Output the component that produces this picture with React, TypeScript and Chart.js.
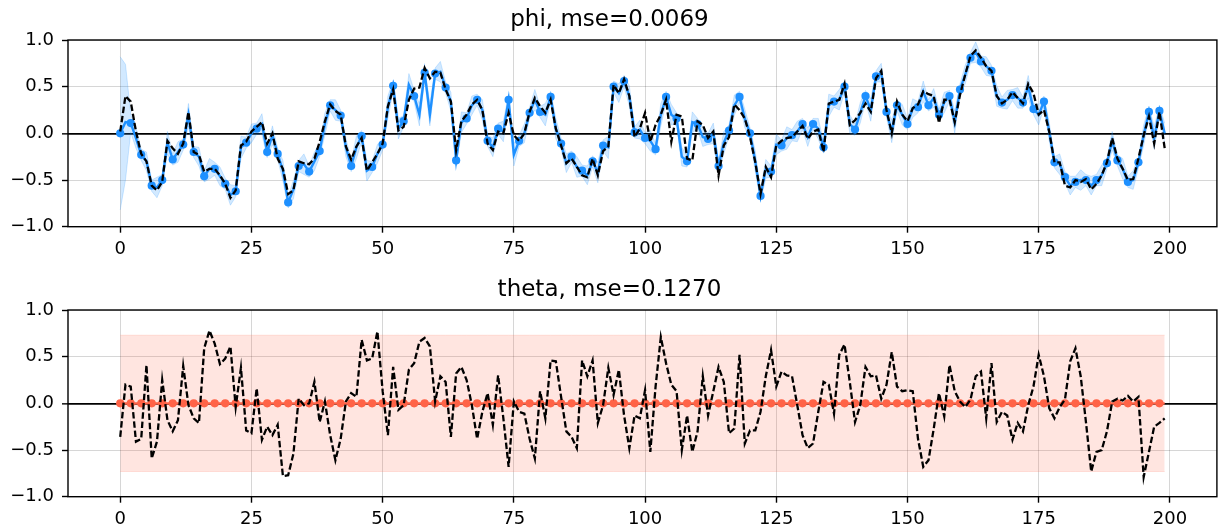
import React, { useEffect, useRef } from "react";
import { Chart, registerables } from "chart.js";

Chart.register(...registerables);

// ---------------- data ----------------
const X_TICKS = [0, 25, 50, 75, 100, 125, 150, 175, 200];
const Y_TICKS = [-1, -0.5, 0, 0.5, 1];

const PHI_TITLE = "phi, mse=0.0069";
const THETA_TITLE = "theta, mse=0.1270";

const phiTrue = [
  0.02, 0.40, 0.34, 0.02, -0.22, -0.30, -0.56, -0.61, -0.52, -0.08,
  -0.16, -0.22, -0.11, 0.23, -0.20, -0.23, -0.41, -0.38, -0.38, -0.45,
  -0.54, -0.69, -0.61, -0.13, -0.09, 0.02, 0.07, 0.12, -0.11, 0.00,
  -0.27, -0.38, -0.65, -0.61, -0.30, -0.32, -0.33, -0.27, -0.09, 0.13,
  0.31, 0.24, 0.20, -0.14, -0.28, -0.14, -0.05, -0.40, -0.31, -0.22,
  -0.11, 0.29, 0.47, 0.03, 0.07, 0.36, 0.48, 0.49, 0.70, 0.59,
  0.66, 0.65, 0.47, 0.34, -0.18, 0.13, 0.20, 0.31, 0.36, 0.25,
  -0.11, -0.18, 0.02, 0.00, 0.22, -0.02, -0.08, 0.00, 0.23, 0.38,
  0.29, 0.22, 0.36, 0.05, -0.13, -0.32, -0.27, -0.36, -0.45, -0.47,
  -0.27, -0.45, -0.19, -0.14, 0.52, 0.43, 0.58, 0.40, -0.04, 0.05,
  0.22, -0.09, 0.09, 0.20, 0.36, -0.09, 0.20, 0.18, -0.27, -0.29,
  0.13, 0.09, -0.05, 0.02, -0.45, -0.13, -0.04, 0.31, 0.25, 0.16,
  -0.04, -0.31, -0.65, -0.36, -0.47, -0.13, -0.08, -0.05, -0.04, 0.02,
  0.08, -0.06, 0.02, 0.04, -0.20, 0.32, 0.34, 0.36, 0.53, 0.09,
  0.14, 0.22, 0.32, 0.23, 0.59, 0.67, 0.25, 0.00, 0.34, 0.20,
  0.13, 0.27, 0.31, 0.45, 0.42, 0.40, 0.11, 0.36, 0.36, 0.12,
  0.41, 0.63, 0.83, 0.89, 0.81, 0.72, 0.67, 0.40, 0.32, 0.36,
  0.44, 0.38, 0.32, 0.53, 0.43, 0.20, 0.25, 0.02, -0.31, -0.31,
  -0.56, -0.58, -0.50, -0.52, -0.49, -0.60, -0.54, -0.45, -0.31, -0.05,
  -0.27, -0.38, -0.50, -0.49, -0.27, -0.02, 0.18, -0.11, 0.23, -0.16,
];

const phiEst = [
  0.00, 0.12, 0.11, -0.05, -0.23, -0.30, -0.56, -0.58, -0.50, -0.10,
  -0.28, -0.20, -0.12, 0.20, -0.20, -0.25, -0.46, -0.38, -0.38, -0.46,
  -0.54, -0.66, -0.62, -0.15, -0.10, 0.00, 0.05, 0.10, -0.20, -0.02,
  -0.22, -0.40, -0.74, -0.60, -0.35, -0.33, -0.41, -0.30, -0.19, 0.10,
  0.30, 0.25, 0.19, -0.15, -0.35, -0.15, -0.03, -0.40, -0.36, -0.22,
  -0.12, 0.28, 0.51, 0.05, 0.13, 0.52, 0.40, 0.20, 0.65, 0.20,
  0.64, 0.66, 0.49, 0.34, -0.29, 0.12, 0.16, 0.30, 0.36, 0.25,
  -0.08, -0.15, 0.05, 0.02, 0.36, -0.23, -0.08, 0.00, 0.22, 0.36,
  0.23, 0.20, 0.39, 0.05, -0.11, -0.32, -0.25, -0.36, -0.40, -0.45,
  -0.30, -0.42, -0.13, -0.15, 0.50, 0.43, 0.56, 0.40, 0.01, 0.04,
  -0.05, -0.08, -0.17, 0.20, 0.39, 0.20, 0.16, -0.25, -0.30, 0.12,
  0.10, -0.04, -0.06, 0.00, -0.35, -0.10, 0.03, 0.30, 0.39, 0.16,
  0.00, -0.30, -0.67, -0.38, -0.41, -0.12, -0.13, -0.05, -0.02, 0.02,
  0.10, -0.04, 0.10, 0.05, -0.15, 0.30, 0.34, 0.36, 0.50, 0.10,
  0.04, 0.22, 0.40, 0.25, 0.61, 0.65, 0.23, 0.02, 0.30, 0.20,
  0.10, 0.27, 0.28, 0.45, 0.30, 0.38, 0.20, 0.33, 0.40, 0.12,
  0.47, 0.63, 0.81, 0.87, 0.77, 0.72, 0.67, 0.40, 0.33, 0.36,
  0.41, 0.38, 0.33, 0.50, 0.26, 0.20, 0.34, 0.02, -0.31, -0.33,
  -0.47, -0.56, -0.52, -0.50, -0.50, -0.56, -0.50, -0.45, -0.32, -0.08,
  -0.29, -0.38, -0.52, -0.50, -0.31, -0.02, 0.23, -0.05, 0.24, 0.00,
];

const phiSd = [
  0.82, 0.62, 0.10, 0.11, 0.06, 0.10, 0.06, 0.11, 0.06, 0.12,
  0.06, 0.11, 0.06, 0.12, 0.06, 0.10, 0.06, 0.11, 0.07, 0.10,
  0.06, 0.11, 0.06, 0.12, 0.06, 0.10, 0.06, 0.11, 0.06, 0.10,
  0.06, 0.11, 0.06, 0.10, 0.06, 0.11, 0.06, 0.10, 0.06, 0.12,
  0.06, 0.11, 0.06, 0.10, 0.06, 0.12, 0.06, 0.11, 0.06, 0.10,
  0.06, 0.12, 0.06, 0.11, 0.06, 0.12, 0.06, 0.12, 0.06, 0.12,
  0.06, 0.11, 0.06, 0.10, 0.06, 0.11, 0.06, 0.10, 0.06, 0.11,
  0.06, 0.10, 0.06, 0.11, 0.06, 0.12, 0.06, 0.10, 0.06, 0.11,
  0.06, 0.12, 0.06, 0.11, 0.06, 0.10, 0.06, 0.11, 0.06, 0.10,
  0.06, 0.11, 0.06, 0.12, 0.06, 0.10, 0.06, 0.11, 0.06, 0.10,
  0.06, 0.11, 0.06, 0.12, 0.06, 0.11, 0.06, 0.10, 0.06, 0.11,
  0.06, 0.10, 0.06, 0.11, 0.06, 0.12, 0.06, 0.11, 0.06, 0.10,
  0.06, 0.11, 0.06, 0.10, 0.06, 0.11, 0.06, 0.12, 0.06, 0.11,
  0.06, 0.10, 0.06, 0.11, 0.06, 0.12, 0.06, 0.11, 0.06, 0.10,
  0.06, 0.11, 0.06, 0.12, 0.06, 0.10, 0.06, 0.12, 0.06, 0.11,
  0.06, 0.10, 0.06, 0.11, 0.06, 0.10, 0.06, 0.11, 0.06, 0.12,
  0.06, 0.10, 0.06, 0.11, 0.06, 0.10, 0.06, 0.11, 0.06, 0.10,
  0.06, 0.11, 0.06, 0.12, 0.06, 0.11, 0.06, 0.10, 0.06, 0.11,
  0.06, 0.10, 0.06, 0.11, 0.06, 0.10, 0.06, 0.11, 0.06, 0.10,
  0.06, 0.11, 0.06, 0.10, 0.06, 0.11, 0.06, 0.12, 0.06, 0.11,
];

const thetaTrue = [
  -0.36, 0.20, 0.18, -0.41, -0.38, 0.41, -0.59, -0.41, 0.25, -0.18,
  -0.30, -0.18, 0.40, -0.02, -0.16, -0.21, 0.59, 0.78, 0.64, 0.42,
  0.48, 0.61, -0.04, 0.38, -0.29, -0.32, 0.16, -0.39, -0.25, -0.34,
  -0.23, -0.78, -0.77, -0.54, 0.05, -0.02, 0.00, 0.23, -0.20, 0.02,
  -0.34, -0.61, -0.38, 0.02, 0.11, 0.07, 0.68, 0.46, 0.48, 0.77,
  0.13, -0.34, 0.39, -0.07, -0.02, 0.36, 0.43, 0.66, 0.70, 0.61,
  0.02, 0.29, 0.23, -0.36, 0.32, 0.39, 0.25, -0.02, -0.38, -0.09,
  0.11, -0.23, 0.30, -0.16, -0.68, 0.02, -0.09, -0.11, -0.38, -0.59,
  0.13, -0.16, 0.46, 0.45, 0.07, -0.30, -0.36, -0.48, 0.46, 0.29,
  0.46, -0.21, -0.02, 0.38, 0.09, 0.36, -0.13, -0.48, -0.13, -0.16,
  0.14, -0.52, 0.18, 0.71, 0.43, 0.20, 0.13, -0.50, -0.13, -0.52,
  -0.30, 0.29, -0.13, 0.13, 0.39, 0.23, -0.32, -0.27, 0.52, -0.43,
  -0.29, -0.29, -0.09, 0.29, 0.57, 0.18, 0.34, 0.30, 0.29, -0.02,
  -0.34, -0.48, -0.43, -0.09, 0.23, 0.20, -0.11, 0.52, 0.63, 0.23,
  -0.20, -0.02, 0.39, 0.29, 0.30, 0.05, 0.20, 0.55, 0.18, 0.13,
  0.14, 0.13, -0.38, -0.68, -0.61, -0.27, 0.11, -0.14, 0.41, 0.13,
  0.02, -0.04, 0.04, 0.29, 0.34, -0.16, 0.43, -0.20, -0.09, -0.13,
  -0.39, -0.21, -0.30, -0.02, 0.18, 0.52, 0.29, -0.05, -0.16, -0.04,
  0.04, 0.45, 0.59, 0.29, -0.20, -0.73, -0.52, -0.50, -0.30, 0.02,
  0.05, 0.03, 0.08, 0.02, 0.07, -0.79, -0.52, -0.25, -0.21, -0.16,
];

// theta estimate is flat at zero with a constant +/- band
const THETA_MEAN = 0.0;
const THETA_BAND = 0.73;

// ---------------- styling ----------------
const FONT = "'DejaVu Sans', 'Liberation Sans', sans-serif";
const BLUE = "#1e90ff";
const BLUE_BAND = "rgba(30,144,255,0.2)";
const RED = "#ff6347";
const RED_BAND = "rgba(255,99,71,0.17)";
const GRID = "rgba(0,0,0,0.16)";
const W = 1221;
const H = 266;

const fmtY = (v: number) => {
  const s = Number(v).toFixed(1);
  return s.startsWith("-") ? "\u2212" + s.slice(1) : s;
};

const pts = (arr: number[]) => arr.map((y, i) => ({ x: i, y }));

const markEven = (ctx: any) => (ctx.dataIndex % 2 === 0 ? 4.1 : 0);

const boxPlugin = {
  id: "boxFrame",
  afterDatasetsDraw(chart: any) {
    const { ctx, chartArea } = chart;
    const { left, top, right, bottom } = chartArea;
    ctx.save();
    ctx.strokeStyle = "#000";
    ctx.lineWidth = 1.4;
    ctx.strokeRect(left, top, right - left, bottom - top);
    ctx.restore();
  },
};

function makeOptions(title: string, padTop: number, padBottom: number, xHeight: number) {
  return {
    responsive: false,
    animation: false as const,
    devicePixelRatio: 1,
    layout: { padding: { left: 0, right: 2, top: 0, bottom: 0 } },
    elements: { line: { tension: 0 } },
    plugins: {
      legend: { display: false },
      tooltip: { enabled: false },
      title: {
        display: true,
        text: title,
        color: "#000",
        font: { family: FONT, size: 23, weight: "normal" as const, lineHeight: 1.2 },
        padding: { top: padTop, bottom: padBottom },
      },
    },
    scales: {
      x: {
        type: "linear" as const,
        min: -9.95,
        max: 208.95,
        afterBuildTicks: (s: any) => {
          s.ticks = X_TICKS.map((v) => ({ value: v }));
        },
        afterFit: (s: any) => {
          s.height = xHeight;
        },
        ticks: {
          color: "#000",
          font: { family: FONT, size: 18 },
          padding: 6,
          maxRotation: 0,
          autoSkip: false,
          callback: (v: any) => String(v),
        },
        grid: {
          color: GRID,
          lineWidth: 1,
          tickColor: "#000",
          tickWidth: 1.4,
          tickLength: 6,
        },
        border: { display: false },
      },
      y: {
        type: "linear" as const,
        min: -1,
        max: 1,
        afterBuildTicks: (s: any) => {
          s.ticks = Y_TICKS.map((v) => ({ value: v }));
        },
        afterFit: (s: any) => {
          s.width = 68;
        },
        ticks: {
          color: "#000",
          font: { family: FONT, size: 18 },
          padding: 8,
          callback: (v: any) => fmtY(v),
        },
        grid: {
          color: (ctx: any) => (ctx.tick && ctx.tick.value === 0 ? "#000" : GRID),
          lineWidth: (ctx: any) => (ctx.tick && ctx.tick.value === 0 ? 1.7 : 1),
          tickColor: "#000",
          tickWidth: 1.4,
          tickLength: 6,
        },
        border: { display: false },
      },
    },
  };
}

function PhiChart() {
  const ref = useRef<HTMLCanvasElement | null>(null);
  useEffect(() => {
    if (!ref.current) return;
    const upper = phiEst.map((v, i) => v + phiSd[i]);
    const lower = phiEst.map((v, i) => v - phiSd[i]);
    const chart = new Chart(ref.current, {
      type: "line",
      data: {
        datasets: [
          {
            label: "phi true",
            data: pts(phiTrue),
            borderColor: "#000",
            borderWidth: 2.3,
            borderDash: [6.5, 2.8],
            pointRadius: 0,
            fill: false,
            order: 0,
          },
          {
            label: "phi estimate",
            data: pts(phiEst),
            borderColor: BLUE,
            borderWidth: 2.4,
            pointRadius: markEven,
            pointBackgroundColor: BLUE,
            pointBorderWidth: 0,
            fill: false,
            order: 1,
          },
          {
            label: "upper",
            data: pts(upper),
            borderColor: BLUE_BAND,
            borderWidth: 1,
            pointRadius: 0,
            backgroundColor: BLUE_BAND,
            fill: "+1",
            order: 2,
          },
          {
            label: "lower",
            data: pts(lower),
            borderColor: BLUE_BAND,
            borderWidth: 1,
            pointRadius: 0,
            fill: false,
            order: 3,
          },
        ],
      },
      options: makeOptions(PHI_TITLE, 6.4, 6.0, 39.3) as any,
      plugins: [boxPlugin],
    });
    return () => chart.destroy();
  }, []);
  return <canvas ref={ref} width={W} height={H} style={{ display: "block", width: W, height: H }} />;
}

function ThetaChart() {
  const ref = useRef<HTMLCanvasElement | null>(null);
  useEffect(() => {
    if (!ref.current) return;
    const est = thetaTrue.map(() => THETA_MEAN);
    const upper = est.map((v) => v + THETA_BAND);
    const lower = est.map((v) => v - THETA_BAND);
    const chart = new Chart(ref.current, {
      type: "line",
      data: {
        datasets: [
          {
            label: "theta true",
            data: pts(thetaTrue),
            borderColor: "#000",
            borderWidth: 2.3,
            borderDash: [6.5, 2.8],
            pointRadius: 0,
            fill: false,
            order: 0,
          },
          {
            label: "theta estimate",
            data: pts(est),
            borderColor: RED,
            borderWidth: 2.4,
            pointRadius: markEven,
            pointBackgroundColor: RED,
            pointBorderWidth: 0,
            fill: false,
            order: 1,
          },
          {
            label: "upper",
            data: pts(upper),
            borderColor: RED_BAND,
            borderWidth: 1,
            pointRadius: 0,
            backgroundColor: RED_BAND,
            fill: "+1",
            order: 2,
          },
          {
            label: "lower",
            data: pts(lower),
            borderColor: RED_BAND,
            borderWidth: 1,
            pointRadius: 0,
            fill: false,
            order: 3,
          },
        ],
      },
      options: makeOptions(THETA_TITLE, 10.4, 6.0, 35.3) as any,
      plugins: [boxPlugin],
    });
    return () => chart.destroy();
  }, []);
  return <canvas ref={ref} width={W} height={H} style={{ display: "block", width: W, height: H }} />;
}

export default function App() {
  return (
    <div style={{ position: "absolute", left: 0, top: 0, width: W, height: 2 * H, background: "#fff" }}>
      <PhiChart />
      <ThetaChart />
    </div>
  );
}
